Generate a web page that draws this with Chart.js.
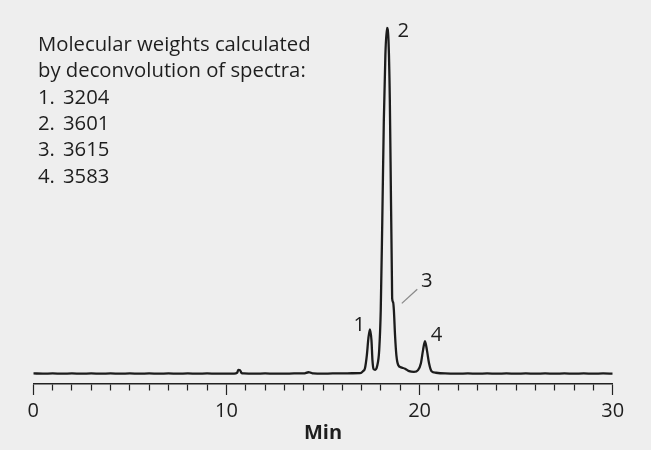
<!DOCTYPE html>
<html>
<head>
<meta charset="utf-8">
<script src="https://cdn.jsdelivr.net/npm/chart.js@4.4.1/dist/chart.umd.min.js"></script>
<style>
  html, body { margin: 0; padding: 0; background: #eeeeee; }
  #grafica { display: block; }
</style>
</head>
<body>
<canvas id="grafica" width="651" height="450"></canvas>
<script>
// tiempo de retencion (min) y senal del cromatograma
var tiempo = [0, 0.5, 1, 1.5, 2, 2.5, 3, 3.5, 4, 4.5, 5, 5.5, 6, 6.5, 7, 7.5, 8, 8.5, 9, 9.5,
    10, 10.4, 10.55, 10.62, 10.7, 10.78, 10.9, 11.5, 12, 12.5, 13, 13.5, 14, 14.25, 14.35, 14.5,
    15, 15.5, 16, 16.5, 16.92, 17.07, 17.17, 17.27, 17.35, 17.43, 17.51, 17.56, 17.62, 17.7,
    17.8, 17.91, 17.99, 18.07, 18.15, 18.23, 18.31, 18.39, 18.46, 18.52, 18.57, 18.58, 18.63,
    18.67, 18.73, 18.8, 18.9, 19.04, 19.25, 19.46, 19.71, 19.92, 20.07, 20.18, 20.28, 20.38,
    20.49, 20.62, 20.85, 21.32, 22, 22.5, 23, 23.5, 24, 24.5, 25, 25.5, 26, 26.5, 27, 27.5,
    28, 28.5, 29, 29.5, 30]
var senal = [0.15, 0.1, 0.15, 0.1, 0.15, 0.1, 0.15, 0.1, 0.15, 0.1, 0.15, 0.1, 0.15, 0.1, 0.15, 0.1, 0.15, 0.1, 0.15, 0.1,
    0.1, 0.1, 0.3, 1.2, 1.1, 0.3, 0.15, 0.1, 0.15, 0.1, 0.1, 0.15, 0.15, 0.5, 0.4, 0.15,
    0.1, 0.15, 0.15, 0.2, 0.25, 0.8, 1.6, 5.4, 10.3, 12.9, 9.7, 4.0, 1.4, 1.2,
    2.2, 6.9, 18.4, 44.4, 73.4, 92.2, 100, 96.5, 79.2, 50.2, 27.1, 21.9, 20.7,
    18.4, 11.2, 5.4, 2.5, 1.9, 1.5, 0.8, 0.6, 1.1, 3.1, 6.9, 9.5, 6.9,
    3.1, 0.8, 0.35, 0.15, 0.1, 0.15, 0.1, 0.15, 0.1, 0.15, 0.1, 0.15, 0.1, 0.15, 0.1, 0.15,
    0.1, 0.15, 0.1, 0.15, 0.1]

// ejes
var eje_x_min = 0, eje_x_max = 30, paso_x = 1, paso_etiqueta = 10
var eje_y_min = -2.9, eje_y_max = 102

// etiquetas de los picos
var picos = ['1', '2', '3', '4']
var picos_x = [16.88, 19.16, 20.37, 20.88]
var picos_y = [14.1, 99.1, 26.7, 11.1]
// linea guia del pico 3
var guia_x = [19.08, 19.88]
var guia_y = [20.4, 24.5]

var texto_lineas = ['Molecular weights calculated', 'by deconvolution of spectra:']
var numeros = ['1.', '2.', '3.', '4.']
var pesos = ['3204', '3601', '3615', '3583']

var fuente = '"Open Sans", "Noto Sans", sans-serif'

var puntos = tiempo.map(function (t, i) { return { x: t, y: senal[i] } })

var textos_plugin = {
    id: 'textos',
    beforeDraw: function (chart) {
        var ctx = chart.ctx
        ctx.save()
        ctx.fillStyle = '#eeeeee'
        ctx.fillRect(0, 0, chart.width, chart.height)
        ctx.restore()
    },
    afterDraw: function (chart) {
        var ctx = chart.ctx
        var sx = chart.scales.x, sy = chart.scales.y
        ctx.save()
        ctx.fillStyle = '#1e1e1e'
        ctx.font = '20.3px ' + fuente
        ctx.textAlign = 'left'
        ctx.textBaseline = 'alphabetic'
        var base = 51, alto = 26.3
        texto_lineas.forEach(function (l, i) {
            ctx.fillText(l, 38, base + i * alto)
        })
        numeros.forEach(function (n, i) {
            ctx.fillText(n, 38, base + (i + 2) * alto)
            ctx.fillText(pesos[i], 63, base + (i + 2) * alto)
        })
        // linea guia
        ctx.strokeStyle = '#8a8a8a'
        ctx.lineWidth = 1.3
        ctx.beginPath()
        ctx.moveTo(sx.getPixelForValue(guia_x[0]), sy.getPixelForValue(guia_y[0]))
        ctx.lineTo(sx.getPixelForValue(guia_x[1]), sy.getPixelForValue(guia_y[1]))
        ctx.stroke()
        // numeros de pico
        ctx.textAlign = 'center'
        ctx.textBaseline = 'middle'
        picos.forEach(function (p, i) {
            ctx.fillText(p, sx.getPixelForValue(picos_x[i]), sy.getPixelForValue(picos_y[i]))
        })
        ctx.restore()
    }
}

var grafica = new Chart(document.getElementById('grafica'), {
    type: 'line',
    data: {
        datasets: [{
            data: puntos,
            borderColor: '#1c1c1c',
            borderWidth: 2.3,
            pointRadius: 0,
            fill: false,
            cubicInterpolationMode: 'monotone'
        }]
    },
    options: {
        responsive: false,
        animation: false,
        layout: { padding: { top: 21, left: 33.3, right: 38.3, bottom: 0 } },
        plugins: {
            legend: { display: false },
            tooltip: { enabled: false }
        },
        scales: {
            x: {
                type: 'linear',
                min: eje_x_min,
                max: eje_x_max,
                afterFit: function (escala) { escala.height = 66 },
                border: { display: true, color: '#222222', width: 1.5 },
                grid: {
                    drawOnChartArea: false,
                    tickLength: 11,
                    tickWidth: 1.2,
                    tickColor: '#222222',
                    tickBorderDash: function (c) {
                        return (c.tick && c.tick.value % paso_etiqueta === 0) ? [] : [6, 30]
                    }
                },
                ticks: {
                    stepSize: paso_x,
                    autoSkip: false,
                    maxRotation: 0,
                    padding: 4,
                    color: '#1e1e1e',
                    font: { family: fuente, size: 20 },
                    callback: function (v) { return v % paso_etiqueta === 0 ? v : '' }
                },
                title: {
                    display: true,
                    text: 'Min',
                    color: '#1e1e1e',
                    font: { family: fuente, size: 20, weight: 'bold' },
                    padding: { top: 0, bottom: 5 }
                }
            },
            y: {
                display: false,
                min: eje_y_min,
                max: eje_y_max
            }
        }
    },
    plugins: [textos_plugin]
})
</script>
</body>
</html>
